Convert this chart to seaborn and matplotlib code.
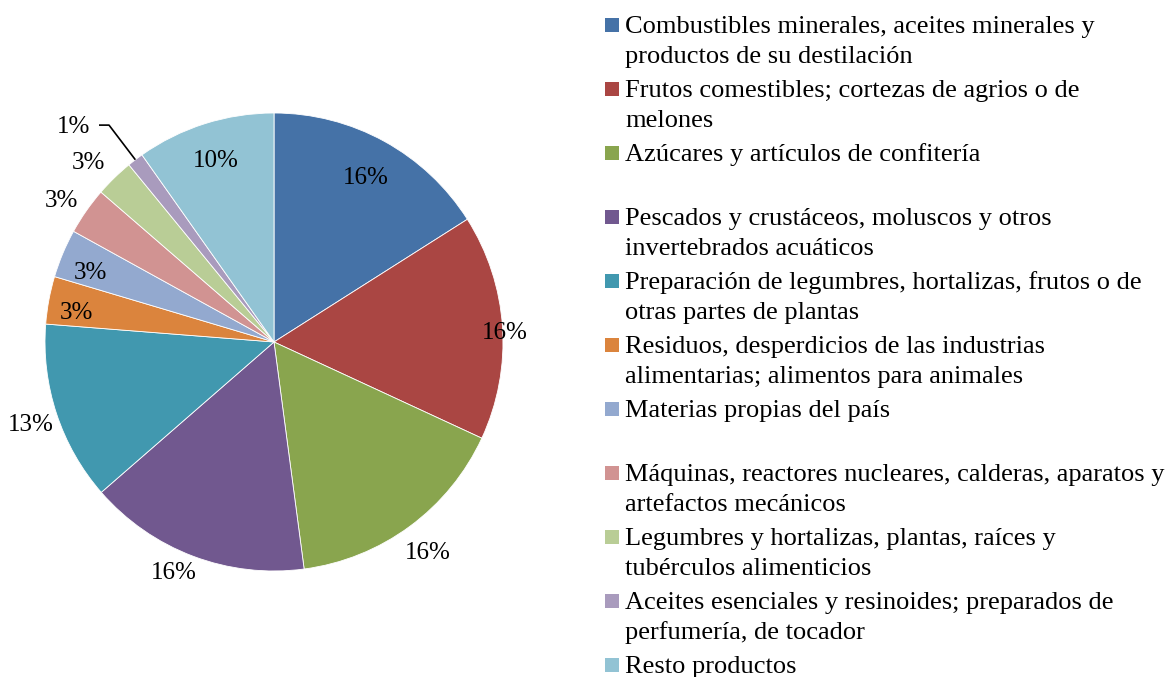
import numpy as np
import matplotlib
matplotlib.use("Agg")
import matplotlib.pyplot as plt
from matplotlib.patches import Rectangle
import seaborn as sns

sns.set_theme(style="white")
plt.rcParams['font.family'] = ['Liberation Serif', 'DejaVu Serif']

categories = [
    "Combustibles minerales, aceites minerales y\nproductos de su destilación",
    "Frutos comestibles; cortezas de agrios o de\nmelones",
    "Azúcares y artículos de confitería",
    "Pescados y crustáceos, moluscos y otros\ninvertebrados acuáticos",
    "Preparación de legumbres, hortalizas, frutos o de\notras partes de plantas",
    "Residuos, desperdicios de las industrias\nalimentarias; alimentos para animales",
    "Materias propias del país",
    "Máquinas, reactores nucleares, calderas, aparatos y\nartefactos mecánicos",
    "Legumbres y hortalizas, plantas, raíces y\ntubérculos alimenticios",
    "Aceites esenciales y resinoides; preparados de\nperfumería, de tocador",
    "Resto productos",
]
values = [16.0, 15.9, 16.0, 15.7, 12.65, 3.36, 3.42, 3.33, 2.72, 1.14, 9.78]
colors = ["#4572A7", "#AA4643", "#89A54E", "#71588F", "#4198AF", "#DB843D",
          "#93A9CF", "#D19392", "#B9CD96", "#A99BBD", "#92C3D4"]

W, H = 1172, 677
fig = plt.figure(figsize=(W / 100, H / 100), dpi=100)
ax = fig.add_axes([0, 0, 1, 1])
cx, cy, R = 274, H - 342, 229

wedges, _ = ax.pie(values, colors=colors, startangle=90, counterclock=False,
                   center=(cx, cy), radius=R,
                   wedgeprops=dict(edgecolor="white", linewidth=0.6))
ax.set_xlim(0, W)
ax.set_ylim(0, H)
ax.set_aspect("equal")
ax.axis("off")

FS_LAB = 18
FS_LEG = 19
# percentage label placement: radial factor and angular nudge per slice
rfac = [0.83, 1.01, 1.13, 1.09, 1.12, 0.875, 0.86, 1.12, 1.135, None, 0.84]
dang = [0.0, -1.0, 0.0, -3.0, 0.0, 1.5, 1.5, 1.0, 1.4, 0.0, 0.0]
total = sum(values)
for i, w in enumerate(wedges):
    m = np.deg2rad((w.theta1 + w.theta2) / 2 + dang[i])
    pct = f"{round(values[i] / total * 100):.0f}%"
    if rfac[i] is None:
        p_edge = (cx + R * np.cos(m), cy + R * np.sin(m))
        p_elb = (cx + 1.19 * R * np.cos(m), cy + 1.19 * R * np.sin(m))
        p_end = (p_elb[0] - 10, p_elb[1])
        ax.plot([p_edge[0], p_elb[0], p_end[0]], [p_edge[1], p_elb[1], p_end[1]],
                color="black", lw=1.2, solid_capstyle="butt")
        ax.text(p_end[0] - 9, p_end[1] + 1, pct, ha="right", va="center_baseline",
                fontsize=FS_LAB, color="black")
    else:
        r = rfac[i] * R
        ax.text(cx + r * np.cos(m), cy + r * np.sin(m), pct, ha="center",
                va="center_baseline", fontsize=FS_LAB, color="black")

# legend
for i, lab in enumerate(categories):
    yc = 24.7 + i * 64.03
    ax.add_patch(Rectangle((605, H - yc - 7), 14, 14, color=colors[i], lw=0))
    for j, line in enumerate(lab.split("\n")):
        ax.text(625, H - (yc + 8 + j * 30.5), line, ha="left", va="baseline",
                fontsize=FS_LEG, color="black")

fig.savefig("out.png", dpi=100)
